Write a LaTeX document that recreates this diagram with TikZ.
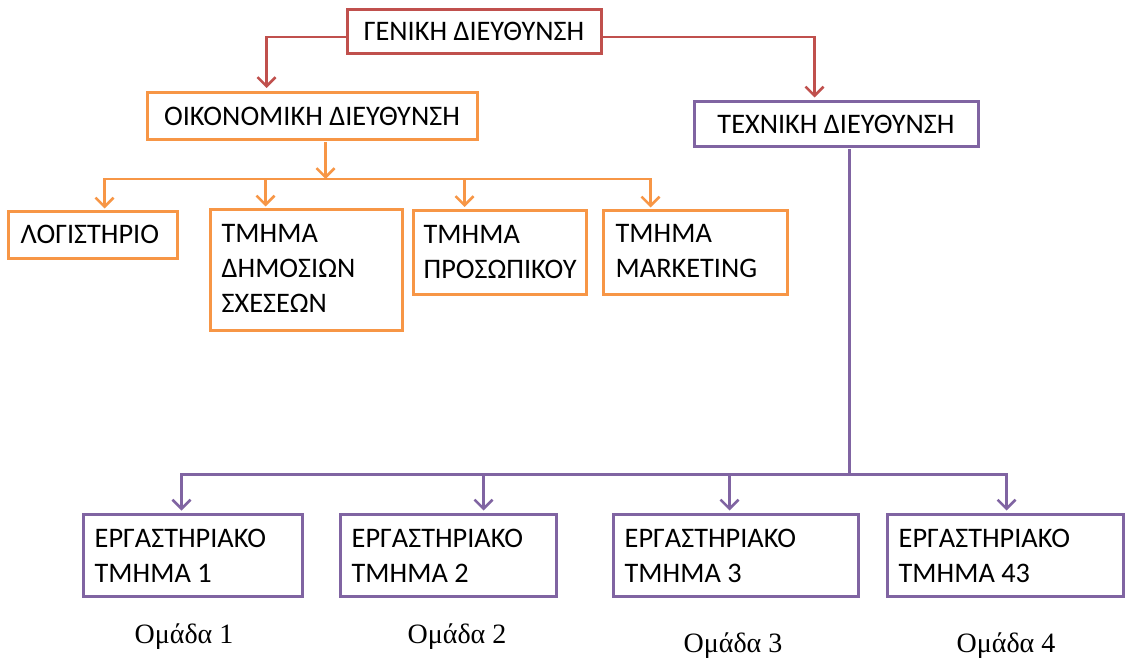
\documentclass[tikz,border=0pt]{standalone}
\usepackage{fontspec}
\setmainfont{Carlito}
\newfontfamily\grpfont{Liberation Serif}
\usetikzlibrary{arrows.meta,calc}
\definecolor{cred}{HTML}{C0504D}
\definecolor{corange}{HTML}{F79646}
\definecolor{cpurple}{HTML}{8064A2}
\tikzset{
  box/.style={draw, line width=3pt, rectangle, inner sep=0pt},
  rbox/.style={box, draw=cred},
  obox/.style={box, draw=corange},
  pbox/.style={box, draw=cpurple},
  txt/.style={inner sep=0pt, font=\fontsize{28.3}{35}\selectfont},
  lbl/.style={txt, anchor=north west, align=left},
  grp/.style={inner sep=0pt, font=\grpfont\fontsize{28}{34}\selectfont},
  tip/.style={-{Straight Barb[length=9pt,width=18pt,line width=2.5pt]}},
  conn/.style={line width=2.8pt},
}
\begin{document}
\begin{tikzpicture}[x=1pt,y=-1pt]
\useasboundingbox[fill=white] (0,0) rectangle (1126,660);
% boxes
\node[rbox, minimum width=254pt, minimum height=44pt] (gen) at (474,31.5) {};
\node[obox, minimum width=330pt, minimum height=47pt] (oik) at (312,116) {};
\node[pbox, minimum width=284pt, minimum height=45pt] (tex) at (836,124.5) {};
\node[obox, minimum width=169pt, minimum height=46pt] (log) at (92.5,235) {};
\node[obox, minimum width=192pt, minimum height=120pt] (dim) at (306,270) {};
\node[obox, minimum width=173pt, minimum height=84pt] (pro) at (499.5,252.5) {};
\node[obox, minimum width=184pt, minimum height=83pt] (mar) at (695,252.5) {};
\node[pbox, minimum width=219pt, minimum height=82pt] (e1) at (192.5,555) {};
\node[pbox, minimum width=216pt, minimum height=82pt] (e2) at (448,555) {};
\node[pbox, minimum width=245pt, minimum height=82pt] (e3) at (735.5,555) {};
\node[pbox, minimum width=236pt, minimum height=82pt] (e4) at (1005,555) {};
% texts
\node[txt] (tgen) at (gen.center) {ΓΕΝΙΚΗ ΔΙΕΥΘΥΝΣΗ};
\node[txt] (toik) at (oik.center) {ΟΙΚΟΝΟΜΙΚΗ ΔΙΕΥΘΥΝΣΗ};
\node[txt] (ttex) at (tex.center) {ΤΕΧΝΙΚΗ ΔΙΕΥΘΥΝΣΗ};
\node[lbl] (tlog) at ($(log.north west)+(14,14)$) {ΛΟΓΙΣΤΗΡΙΟ};
\node[lbl] (tdim) at ($(dim.north west)+(13,16)$) {ΤΜΗΜΑ\\ΔΗΜΟΣΙΩΝ\\ΣΧΕΣΕΩΝ};
\node[lbl] (tpro) at ($(pro.north west)+(12,16)$) {ΤΜΗΜΑ\\ΠΡΟΣΩΠΙΚΟΥ};
\node[lbl] (tmar) at ($(mar.north west)+(14,15)$) {ΤΜΗΜΑ\\MARKETING};
\node[lbl] (te1) at ($(e1.north west)+(13,16)$) {ΕΡΓΑΣΤΗΡΙΑΚΟ\\ΤΜΗΜΑ 1};
\node[lbl] (te2) at ($(e2.north west)+(13,16)$) {ΕΡΓΑΣΤΗΡΙΑΚΟ\\ΤΜΗΜΑ 2};
\node[lbl] (te3) at ($(e3.north west)+(13,16)$) {ΕΡΓΑΣΤΗΡΙΑΚΟ\\ΤΜΗΜΑ 3};
\node[lbl] (te4) at ($(e4.north west)+(13,16)$) {ΕΡΓΑΣΤΗΡΙΑΚΟ\\ΤΜΗΜΑ 43};
\node[grp] (g1) at (184,637) {Ομάδα 1};
\node[grp] (g2) at (457,637) {Ομάδα 2};
\node[grp] (g3) at (733,646) {Ομάδα 3};
\node[grp] (g4) at (1006,646) {Ομάδα 4};
% red connectors
\draw[conn, draw=cred, tip] ($(gen.west)+(0,5.5)$) -| ($(oik.north west)+(121,-3)$);
\draw[conn, draw=cred, tip] ($(gen.east)+(0,5.5)$) -| ($(tex.north west)+(122,-3)$);
% orange connectors
\coordinate (ob) at ($(oik.south west)+(180,38)$);
\coordinate (oa1) at ($(log.north west)+(98,-2)$);
\coordinate (oa2) at ($(dim.north west)+(57,-2)$);
\coordinate (oa3) at ($(pro.north west)+(53,-2)$);
\coordinate (oa4) at ($(mar.north west)+(49,-2)$);
\draw[conn, draw=corange, tip] ($(oik.south west)+(180,1)$) -- (ob);
\draw[conn, draw=corange, line cap=rect] (ob -| oa1) -- (ob -| oa4);
\foreach \c in {oa1,oa2,oa3,oa4}
  \draw[conn, draw=corange, tip] (ob -| \c) -- (\c);
% purple connectors
\coordinate (pb) at ($(tex.south west)+(157,326)$);
\coordinate (pa1) at ($(e1.north west)+(100,-2)$);
\coordinate (pa2) at ($(e2.north west)+(145,-2)$);
\coordinate (pa3) at ($(e3.north west)+(118,-2)$);
\coordinate (pa4) at ($(e4.north west)+(121,-2)$);
\draw[conn, draw=cpurple] ($(tex.south west)+(157,1)$) -- (pb);
\draw[conn, draw=cpurple, line cap=rect] (pb -| pa1) -- (pb -| pa4);
\foreach \c in {pa1,pa2,pa3,pa4}
  \draw[conn, draw=cpurple, tip] (pb -| \c) -- (\c);
\end{tikzpicture}
\end{document}
